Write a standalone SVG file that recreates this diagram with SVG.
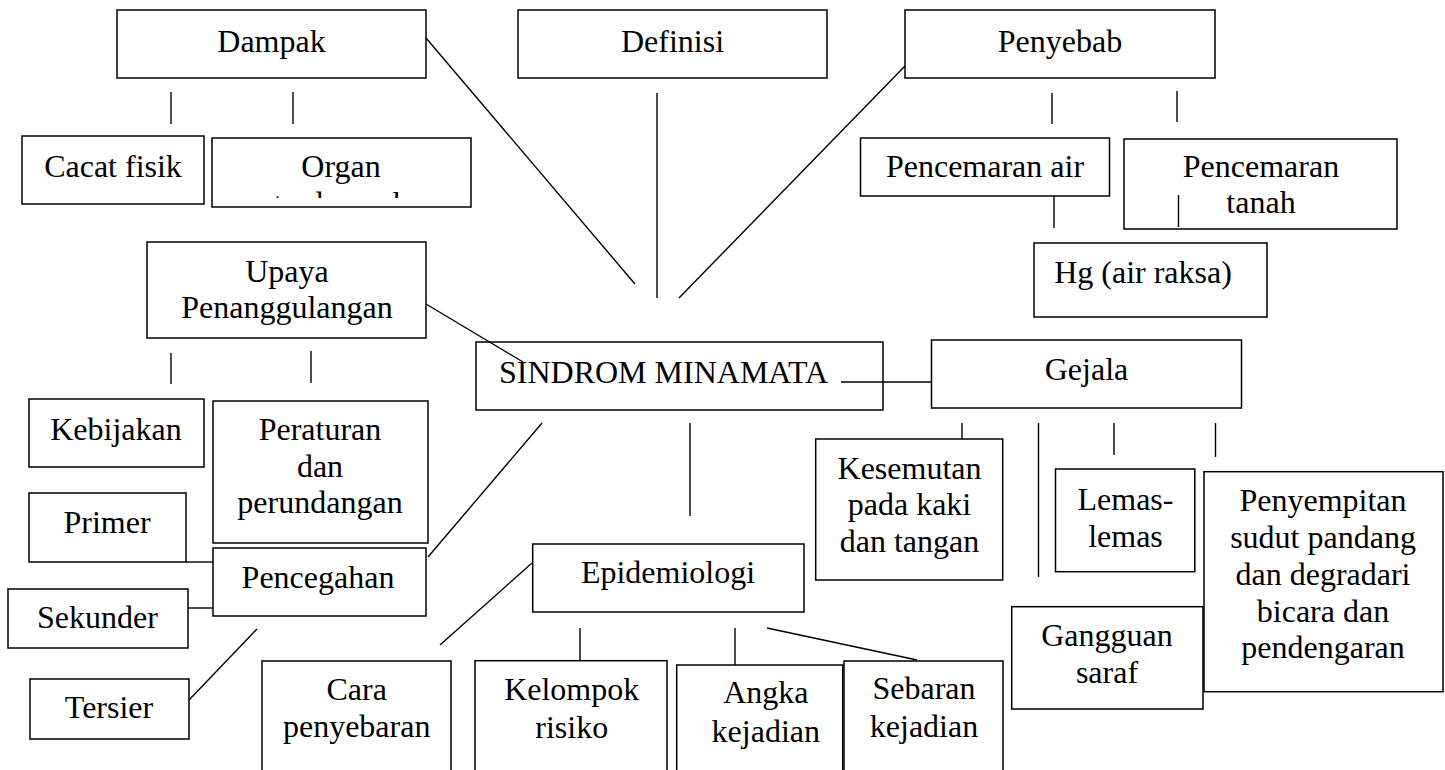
<svg xmlns="http://www.w3.org/2000/svg" width="1445" height="770" viewBox="0 0 1445 770">
  <style>
    .box { fill: #fff; stroke: #000; stroke-width: 1.5; }
    .ln { stroke: #000; stroke-width: 1.4; fill: none; }
    .lbl text { font-size: 32px; fill: #000; text-anchor: middle; }
  </style>
  <defs>
    <!-- inner area of the "Organ" text box; second line overflows and is cut -->
    <clipPath id="organClip">
      <rect x="213" y="139" width="257" height="59"/>
    </clipPath>
  </defs>
  <rect width="1445" height="770" fill="#fff"/>

  <g class="lbl" font-family="Liberation Serif, Times New Roman, serif">
  <g id="dampak"><rect class="box" x="117" y="10" width="309" height="68"/><text x="271.5" y="52">Dampak</text></g>
  <g id="definisi"><rect class="box" x="518" y="10" width="309" height="68"/><text x="672.5" y="52">Definisi</text></g>
  <g id="penyebab"><rect class="box" x="905" y="10" width="310" height="68"/><text x="1060" y="52">Penyebab</text></g>

  <g id="cacat-fisik"><rect class="box" x="22" y="136" width="182" height="68"/><text x="113" y="177">Cacat fisik</text></g>
  <g id="organ"><rect class="box" x="212" y="138" width="259" height="69"/><text x="341" y="177">Organ</text><text x="341" y="214" clip-path="url(#organClip)">terdampak</text></g>

  <g id="pencemaran-air"><rect class="box" x="860.5" y="138" width="249" height="58"/><text x="985" y="177">Pencemaran air</text></g>
  <g id="pencemaran-tanah"><rect class="box" x="1124" y="139" width="273" height="90"/><text x="1261" y="177">Pencemaran</text><text x="1261" y="213">tanah</text></g>
  <g id="hg"><rect class="box" x="1034" y="243" width="233" height="74"/><text x="1143" y="283">Hg (air raksa)</text></g>

  <g id="upaya"><rect class="box" x="147" y="242" width="279" height="96"/><text x="287" y="282">Upaya</text><text x="287" y="318">Penanggulangan</text></g>

  <g id="sindrom"><rect class="box" x="476" y="342" width="407" height="68"/><text x="663.5" y="383">SINDROM MINAMATA</text></g>
  <g id="gejala"><rect class="box" x="931.5" y="340" width="310" height="68"/><text x="1086.5" y="380">Gejala</text></g>

  <g id="kebijakan"><rect class="box" x="29" y="399" width="175" height="68"/><text x="116" y="440">Kebijakan</text></g>
  <g id="peraturan"><rect class="box" x="213" y="401" width="215" height="142"/><text x="320" y="440">Peraturan</text><text x="320" y="477">dan</text><text x="320" y="513">perundangan</text></g>

  <g id="kesemutan"><rect class="box" x="815.7" y="439" width="187" height="141"/><text x="909.5" y="479">Kesemutan</text><text x="909.5" y="515">pada kaki</text><text x="909.5" y="552">dan tangan</text></g>
  <g id="lemas"><rect class="box" x="1055.5" y="469" width="139.3" height="102.7"/><text x="1125.5" y="510">Lemas-</text><text x="1125.5" y="547">lemas</text></g>
  <g id="penyempitan"><rect class="box" x="1204" y="471.7" width="239" height="220"/><text x="1323" y="511">Penyempitan</text><text x="1323" y="548">sudut pandang</text><text x="1323" y="585">dan degradari</text><text x="1323" y="622">bicara dan</text><text x="1323" y="658">pendengaran</text></g>
  <g id="gangguan"><rect class="box" x="1011.7" y="606.7" width="191.3" height="102.3"/><text x="1107" y="646">Gangguan</text><text x="1107" y="683">saraf</text></g>

  <g id="primer"><rect class="box" x="29" y="493" width="157" height="69"/><text x="107" y="533">Primer</text></g>
  <g id="pencegahan"><rect class="box" x="213" y="548" width="213" height="68"/><text x="318" y="588">Pencegahan</text></g>
  <g id="sekunder"><rect class="box" x="8" y="589" width="180" height="59"/><text x="97.5" y="628">Sekunder</text></g>
  <g id="tersier"><rect class="box" x="30" y="679" width="159" height="60"/><text x="109" y="718">Tersier</text></g>

  <g id="epidemiologi"><rect class="box" x="532.7" y="544" width="271.3" height="68"/><text x="668" y="583">Epidemiologi</text></g>
  <g id="cara-penyebaran"><rect class="box" x="262" y="661" width="189" height="130"/><text x="356.7" y="700">Cara</text><text x="356.7" y="737">penyebaran</text></g>
  <g id="kelompok-risiko"><rect class="box" x="475" y="660.7" width="192" height="130"/><text x="571.7" y="700">Kelompok</text><text x="571.7" y="738">risiko</text></g>
  <g id="angka-kejadian"><rect class="box" x="676.7" y="665" width="166" height="130"/><text x="765.8" y="703">Angka</text><text x="765.8" y="741.7">kejadian</text></g>
  <g id="sebaran-kejadian"><rect class="box" x="844" y="661" width="159" height="130"/><text x="924" y="699">Sebaran</text><text x="924" y="737">kejadian</text></g>
  </g>

  <g id="connectors" class="ln">
    <line x1="426" y1="38" x2="635" y2="284"/>
    <line x1="657" y1="93" x2="657" y2="298"/>
    <line x1="905" y1="66" x2="679" y2="298"/>
    <line x1="171" y1="92" x2="171" y2="124"/>
    <line x1="293" y1="92" x2="293" y2="124"/>
    <line x1="1052" y1="93" x2="1052" y2="124"/>
    <line x1="1177" y1="91" x2="1177" y2="122"/>
    <line x1="1054" y1="196" x2="1054" y2="228"/>
    <line x1="1178.5" y1="195" x2="1178.5" y2="227"/>
    <line x1="426" y1="304" x2="523" y2="362"/>
    <line x1="171" y1="353" x2="171" y2="384"/>
    <line x1="311" y1="351" x2="311" y2="383"/>
    <line x1="841" y1="382" x2="931.5" y2="382"/>
    <line x1="962" y1="423" x2="962" y2="439"/>
    <line x1="1038.5" y1="423" x2="1038.5" y2="577"/>
    <line x1="1114" y1="423" x2="1114" y2="455"/>
    <line x1="1215.5" y1="423" x2="1215.5" y2="457"/>
    <line x1="690" y1="423" x2="690" y2="516"/>
    <line x1="428" y1="557" x2="542" y2="423"/>
    <line x1="186" y1="562" x2="213" y2="562"/>
    <line x1="188" y1="608" x2="213" y2="608"/>
    <line x1="189" y1="700" x2="257" y2="629"/>
    <line x1="440" y1="645" x2="532" y2="563"/>
    <line x1="580" y1="628" x2="580" y2="660"/>
    <line x1="735" y1="628" x2="735" y2="665"/>
    <line x1="767" y1="628" x2="917" y2="660"/>
  </g>
</svg>
